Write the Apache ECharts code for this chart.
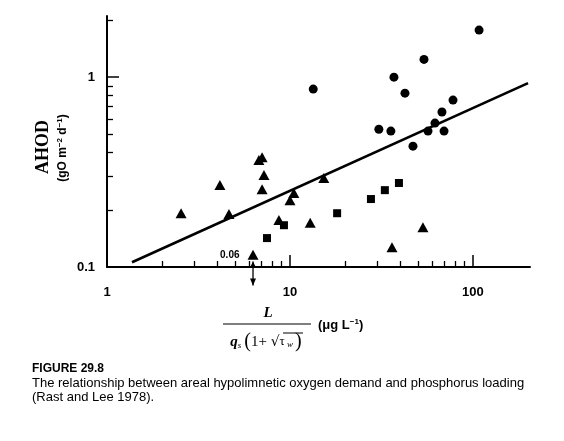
<!DOCTYPE html>
<html>
<head>
<meta charset="utf-8">
<script src="https://cdn.jsdelivr.net/npm/echarts@6/dist/echarts.min.js"></script>
<style>
  html, body { margin: 0; padding: 0; background: #fff; }
  #main { width: 564px; height: 441px; }
</style>
</head>
<body>
<div id="main"></div>
<script>
/// data (log-log)
var triX = [2.54, 4.14, 4.64, 6.76, 7.04, 7.21, 7.04, 8.7, 10.0, 10.5, 12.9, 15.3, 36.1, 53.3];
var triY = [0.192, 0.270, 0.190, 0.366, 0.379, 0.305, 0.257, 0.177, 0.225, 0.245, 0.171, 0.294, 0.127, 0.162];
var sqX = [7.49, 9.27, 18.1, 27.7, 33.0, 39.4];
var sqY = [0.142, 0.166, 0.192, 0.228, 0.254, 0.277];
var circX = [13.4, 108, 54, 37, 42.5, 77.8, 67.7, 62, 30.6, 35.6, 56.8, 69.5, 47];
var circY = [0.865, 1.77, 1.24, 1.0, 0.824, 0.757, 0.655, 0.573, 0.532, 0.520, 0.520, 0.520, 0.433];
var fitX = [1.37, 200];
var fitY = [0.106, 0.93];
/// off-scale point (actual value 0.06)
var lowX = [6.28];
var lowY = [0.116];
var lowArrow = [[6.28, 0.107, 0.080]];

var xLabels = [1, 10, 100];
var xMinorTicks = [2, 3, 4, 5, 6, 7, 8, 9, 20, 30, 40, 50, 60, 70, 80, 90];
var xMajorTicks = [10, 100];
var yLabels = [0.1, 1];
var yMinorTicks = [0.2, 0.3, 0.4, 0.5, 0.6, 0.7, 0.8, 0.9, 2];
var yMajorTicks = [1];

function pairs(xs, ys) {
	var out = [];
	for (var i = 0; i < xs.length; i++) out.push([xs[i], ys[i]]);
	return out;
}

var labelFont = { color: '#000', fontFamily: 'Liberation Sans', fontWeight: 'bold', fontSize: 13 };
var black = { color: '#000', opacity: 1 };

var chart = echarts.init(document.getElementById('main'));
var option = {
	backgroundColor: '#fff',
	animation: false,
	grid: { left: 107, right: 34, top: 16, bottom: 174, containLabel: false },
	xAxis: [
		{
			type: 'log', min: 1, max: 205, position: 'bottom',
			axisLine: { lineStyle: { color: '#000', width: 2 } },
			axisTick: { inside: true, length: 6, customValues: xMinorTicks, lineStyle: { color: '#000', width: 1.3 } },
			axisLabel: Object.assign({ customValues: xLabels, margin: 19, formatter: function (v) { return String(v); } }, labelFont),
			splitLine: { show: false }
		},
		{
			type: 'log', min: 1, max: 205, position: 'bottom',
			axisLine: { show: false },
			axisTick: { inside: true, length: 12, customValues: xMajorTicks, lineStyle: { color: '#000', width: 1.5 } },
			axisLabel: { show: false },
			splitLine: { show: false }
		}
	],
	yAxis: [
		{
			type: 'log', min: 0.1, max: 2.1, position: 'left',
			axisLine: { lineStyle: { color: '#000', width: 2 } },
			axisTick: { inside: true, length: 6, customValues: yMinorTicks, lineStyle: { color: '#000', width: 1.3 } },
			axisLabel: Object.assign({ customValues: yLabels, margin: 12, formatter: function (v) { return String(v); } }, labelFont),
			splitLine: { show: false }
		},
		{
			type: 'log', min: 0.1, max: 2.1, position: 'left',
			axisLine: { show: false },
			axisTick: { inside: true, length: 12, customValues: yMajorTicks, lineStyle: { color: '#000', width: 1.5 } },
			axisLabel: { show: false },
			splitLine: { show: false }
		}
	],
	series: [
		{
			name: 'fit', type: 'line', data: pairs(fitX, fitY), symbol: 'none',
			lineStyle: { color: '#000', width: 2.6 }, z: 1
		},
		{
			name: 'triangles', type: 'scatter', data: pairs(triX, triY), symbol: 'triangle', symbolSize: [11, 10],
			itemStyle: black
		},
		{
			name: 'squares', type: 'scatter', data: pairs(sqX, sqY), symbol: 'rect', symbolSize: 8,
			itemStyle: black
		},
		{
			name: 'circles', type: 'scatter', data: pairs(circX, circY), symbol: 'circle', symbolSize: 9,
			itemStyle: black
		},
		{
			name: 'low', type: 'scatter', data: pairs(lowX, lowY), symbol: 'triangle', symbolSize: [11, 10],
			itemStyle: black,
			label: { show: true, position: 'left', distance: 8, formatter: '0.06', color: '#000', fontFamily: 'Liberation Sans', fontWeight: 'bold', fontSize: 10 }
		},
		{
			name: 'arrow', type: 'custom', data: lowArrow, clip: false, silent: true,
			renderItem: function (params, api) {
				var p0 = api.coord([api.value(0), api.value(1)]);
				var p1 = api.coord([api.value(0), api.value(2)]);
				return {
					type: 'group',
					children: [
						{ type: 'line', shape: { x1: p0[0], y1: p0[1], x2: p1[0], y2: p1[1] }, style: { stroke: '#000', lineWidth: 1.3 } },
						{ type: 'polygon', shape: { points: [[p1[0] - 3, p1[1] - 7], [p1[0] + 3, p1[1] - 7], [p1[0], p1[1]]] }, style: { fill: '#000' } },
						{ type: 'polygon', shape: { points: [[p0[0] - 2.5, p0[1] + 5], [p0[0] + 2.5, p0[1] + 5], [p0[0], p0[1]]] }, style: { fill: '#000' } }
					]
				};
			}
		}
	],
	graphic: [
		{ type: 'text', x: 43, y: 147, rotation: Math.PI / 2, style: { text: 'AHOD', fill: '#000', font: 'bold 18px "Liberation Serif"', align: 'center', verticalAlign: 'middle' } },
		{ type: 'text', x: 63, y: 148, rotation: Math.PI / 2,
			style: {
				text: '{a|(gO m}{s|−2}{a| d}{s|−1}{a|)}', align: 'center', verticalAlign: 'middle',
				rich: {
					a: { fill: '#000', font: 'bold 12px "Liberation Sans"' },
					s: { fill: '#000', font: 'bold 8px "Liberation Sans"', verticalAlign: 'top', padding: [0, 0, 6, 0] }
				}
			}
		},
		{ type: 'text', x: 268, y: 313, style: { text: 'L', fill: '#000', font: 'italic bold 15px "Liberation Serif"', align: 'center', verticalAlign: 'middle' } },
		{ type: 'line', shape: { x1: 223, y1: 324, x2: 311, y2: 324 }, style: { stroke: '#000', lineWidth: 1.2 } },
		{ type: 'text', x: 266, y: 342,
			style: {
				text: '{q|q}{s|s}{p|(}{n|1+ }{r|√}{t|τ}{w| w}{p|)}', align: 'center', verticalAlign: 'middle',
				rich: {
					q: { fill: '#000', font: 'italic bold 15px "Liberation Serif"' },
					s: { fill: '#000', font: 'italic 9px "Liberation Serif"', padding: [8, 3, 0, 0] },
					p: { fill: '#000', font: '20px "Liberation Serif"' },
					n: { fill: '#000', font: '15px "Liberation Serif"' },
					r: { fill: '#000', font: '14px "DejaVu Sans"' },
					t: { fill: '#000', font: '13px "Liberation Serif"' },
					w: { fill: '#000', font: 'italic 9px "Liberation Serif"', padding: [6, 2, 0, 0] }
				}
			}
		},
		{ type: 'line', shape: { x1: 283, y1: 333, x2: 303, y2: 333 }, style: { stroke: '#000', lineWidth: 1 } },
		{ type: 'text', x: 318, y: 325,
			style: {
				text: '{a|(μg L}{s|−1}{a|)}', verticalAlign: 'middle',
				rich: {
					a: { fill: '#000', font: 'bold 13px "Liberation Sans"' },
					s: { fill: '#000', font: 'bold 8px "Liberation Sans"', verticalAlign: 'top', padding: [0, 0, 6, 0] }
				}
			}
		},
		{ type: 'text', x: 32, y: 363, style: { text: 'FIGURE 29.8', fill: '#000', font: 'bold 12px "Liberation Sans"' } },
		{ type: 'text', x: 32, y: 377, style: { text: 'The relationship between areal hypolimnetic oxygen demand and phosphorus loading', fill: '#000', font: '13px "Liberation Sans"' } },
		{ type: 'text', x: 32, y: 391, style: { text: '(Rast and Lee 1978).', fill: '#000', font: '13px "Liberation Sans"' } }
	]
};
chart.setOption(option);
</script>
</body>
</html>
